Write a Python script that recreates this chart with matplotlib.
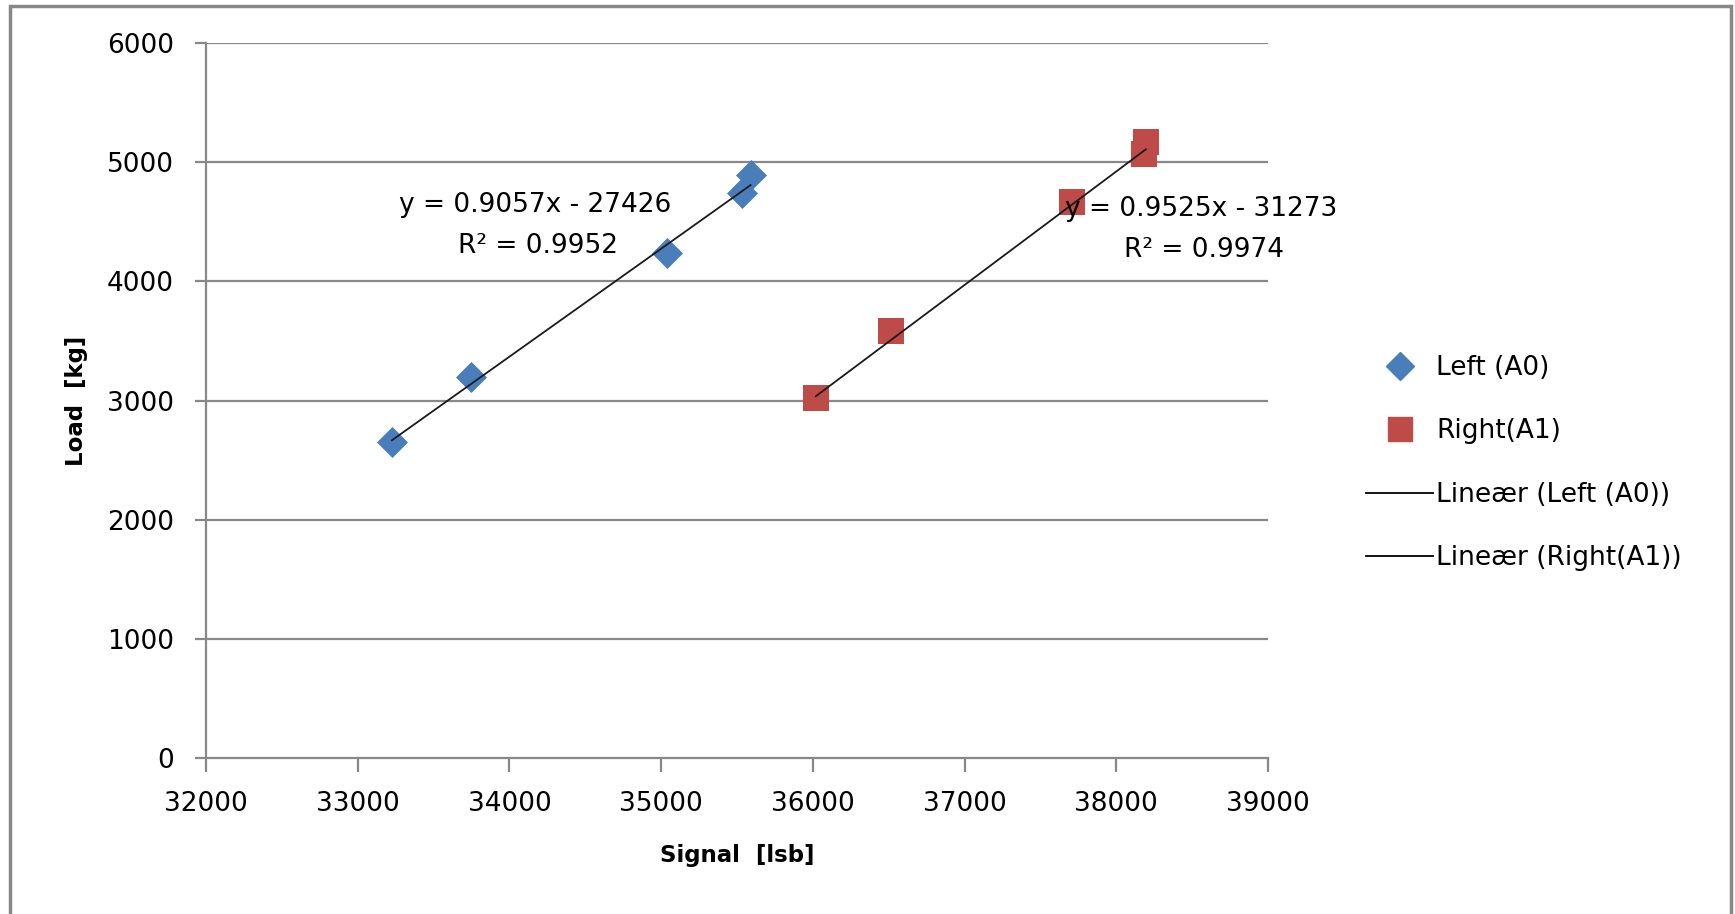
import numpy as np
import matplotlib.pyplot as plt
from matplotlib.lines import Line2D
from matplotlib.patches import Rectangle

# data
left_x = [33225, 33745, 35040, 35535, 35590]
left_y = [2655, 3200, 4240, 4740, 4890]
right_x = [36020, 36515, 37705, 38180, 38195]
right_y = [3020, 3585, 4665, 5065, 5170]

# trendline coefficients (from the chart's equations)
left_fit = [0.9057, -27426]
right_fit = [0.9525, -31273]
left_eq = ['y = 0.9057x - 27426', 'R² = 0.9952']
right_eq = ['y = 0.9525x - 31273', 'R² = 0.9974']

x_ticks = [32000, 33000, 34000, 35000, 36000, 37000, 38000, 39000]
y_ticks = [0, 1000, 2000, 3000, 4000, 5000, 6000]

blue = '#4A7EBB'
red = '#BE4B48'
grey = '#888888'
fs = 19

plt.rcParams['font.family'] = ['DejaVu Sans']

fig = plt.figure(figsize=(17.35, 9.14), dpi=100)
ax = fig.add_axes([206/1735, 1-758/914, (1268-206)/1735, (758-43)/914])

# outer chart frame
fig.patches.append(Rectangle((10/1735, -0.05), (1731-10)/1735, 1.05-6/914,
                             transform=fig.transFigure, fill=False,
                             edgecolor=grey, lw=2.5))

for y in y_ticks[1:]:
    ax.axhline(y, color=grey, lw=1.6, zorder=1)

ax.scatter(left_x, left_y, marker='D', s=250, color=blue, zorder=3, linewidths=0)
ax.scatter(right_x, right_y, marker='s', s=360, color=red, zorder=3, linewidths=0)

lx = np.array([min(left_x), max(left_x)])
rx = np.array([min(right_x), max(right_x)])
ax.plot(lx, left_fit[0]*lx + left_fit[1], color='#1a1a1a', lw=1.3, zorder=4)
ax.plot(rx, right_fit[0]*rx + right_fit[1], color='#1a1a1a', lw=1.3, zorder=4)

ax.text(34170, 4640, left_eq[0], ha='center', va='center', fontsize=fs, zorder=5)
ax.text(34190, 4300, left_eq[1], ha='center', va='center', fontsize=fs, zorder=5)
ax.text(38560, 4605, right_eq[0], ha='center', va='center', fontsize=fs, zorder=5)
ax.text(38580, 4260, right_eq[1], ha='center', va='center', fontsize=fs, zorder=5)

ax.set_xlim(32000, 39000)
ax.set_ylim(0, 6000)
ax.set_xticks(x_ticks)
ax.set_yticks(y_ticks)
ax.tick_params(axis='both', labelsize=fs, color=grey, width=1.6, direction='out')
ax.tick_params(axis='x', length=10, pad=14)
ax.tick_params(axis='y', length=8, pad=15)
for s in ['top', 'right']:
    ax.spines[s].set_visible(False)
for s in ['left', 'bottom']:
    ax.spines[s].set_color(grey)
    ax.spines[s].set_linewidth(1.6)

ax.set_xlabel('Signal  [lsb]', fontsize=16.5, fontweight='bold', labelpad=19)
ax.set_ylabel('Load  [kg]', fontsize=16.5, fontweight='bold', labelpad=14)

handles = [
    Line2D([], [], marker='D', color=blue, ls='none', ms=14),
    Line2D([], [], marker='s', color=red, ls='none', ms=17),
    Line2D([], [], color='black', lw=1.3),
    Line2D([], [], color='black', lw=1.3),
]
labels = ['Left (A0)', 'Right(A1)', 'Lineær (Left (A0))', 'Lineær (Right(A1))']
fig.legend(handles, labels, loc='center left', bbox_to_anchor=(1353/1735, 1-463/914),
           frameon=False, fontsize=fs, handlelength=2.55, handletextpad=0.1,
           labelspacing=1.42, borderpad=0)

fig.savefig('out.png', dpi=100)
